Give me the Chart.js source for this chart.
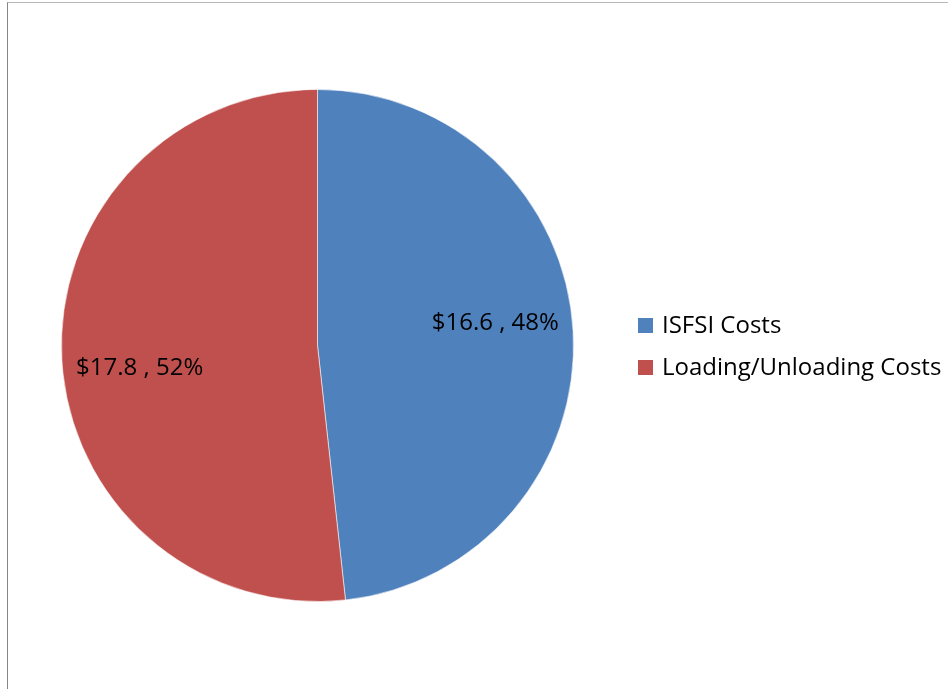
<!DOCTYPE html>
<html>
<head>
<meta charset="utf-8">
<script src="https://cdn.jsdelivr.net/npm/chart.js@4.4.1/dist/chart.umd.min.js"></script>
<style>
    body { margin: 0; background: #fff; }
    #wrap { position: relative; width: 948px; height: 689px; overflow: hidden; }
    #frame {
        position: absolute; left: 7px; top: 2px; width: 1000px; height: 800px;
        border-left: 1px solid #858585; border-top: 1px solid #b8b8b8;
    }
    #costChart { position: absolute; left: 0; top: 0; }
</style>
</head>
<body>
<div id="wrap">
    <div id="frame"></div>
    <canvas id="costChart" width="948" height="689"></canvas>
</div>
<script>
// Cost breakdown ($ millions)
const categories = ['ISFSI Costs', 'Loading/Unloading Costs'];
const costs = [16.6, 17.8];
const shares = [48, 52];
const sliceColors = ['#4F81BD', '#C0504D'];

const FONT = '"Open Sans", Lato, sans-serif';

// Value labels inside each slice: "$16.6 , 48%"
const sliceLabels = {
    id: 'sliceLabels',
    afterDatasetsDraw(chart) {
        const ctx = chart.ctx;
        const meta = chart.getDatasetMeta(0);
        ctx.save();
        ctx.font = '24px ' + FONT;
        ctx.fillStyle = '#000';
        ctx.textAlign = 'center';
        ctx.textBaseline = 'middle';
        meta.data.forEach((arc, i) => {
            const p = arc.getProps(['x', 'y', 'startAngle', 'endAngle', 'outerRadius'], true);
            const mid = (p.startAngle + p.endAngle) / 2 - 4 * Math.PI / 180;
            const r = p.outerRadius * 0.7;
            const x = p.x + Math.cos(mid) * r;
            const y = p.y + Math.sin(mid) * r;
            ctx.fillText('$' + costs[i].toFixed(1) + ' , ' + shares[i] + '%', x, y);
        });
        ctx.restore();
    }
};

// Legend to the right of the pie
const sideLegend = {
    id: 'sideLegend',
    afterDraw(chart) {
        const ctx = chart.ctx;
        ctx.save();
        ctx.font = '24px ' + FONT;
        ctx.textBaseline = 'alphabetic';
        ctx.textAlign = 'left';
        chart.data.labels.forEach((label, i) => {
            const top = 318 + i * 42;
            ctx.fillStyle = chart.data.datasets[0].backgroundColor[i];
            ctx.fillRect(638, top, 15, 15);
            ctx.fillStyle = '#000';
            ctx.fillText(label, 662, top + 15);
        });
        ctx.restore();
    }
};

new Chart(document.getElementById('costChart'), {
    type: 'pie',
    data: {
        labels: categories,
        datasets: [{
            data: costs,
            backgroundColor: sliceColors,
            borderColor: 'rgba(255,255,255,0.55)',
            borderWidth: 1
        }]
    },
    options: {
        responsive: false,
        animation: false,
        layout: {
            padding: { left: 61, top: 89, right: 374, bottom: 87 }
        },
        plugins: {
            legend: { display: false },
            tooltip: { enabled: false }
        }
    },
    plugins: [sliceLabels, sideLegend]
});
</script>
</body>
</html>
